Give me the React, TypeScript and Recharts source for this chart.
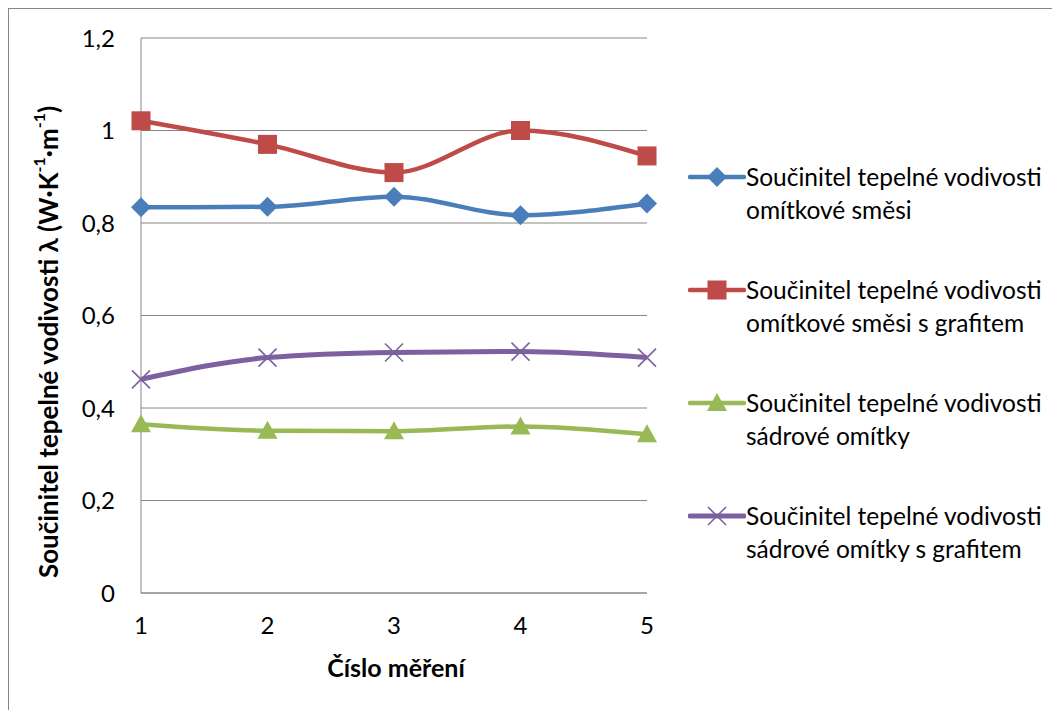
import React from 'react'
import { LineChart, Line, XAxis, YAxis, CartesianGrid } from 'recharts'

const MEASUREMENTS = ['1', '2', '3', '4', '5']
const OMITKA = [0.834, 0.835, 0.857, 0.817, 0.842]
const OMITKA_GRAFIT = [1.021, 0.970, 0.909, 1.0, 0.945]
const SADRA = [0.365, 0.351, 0.350, 0.360, 0.343]
const SADRA_GRAFIT = [0.462, 0.509, 0.520, 0.522, 0.509]
const Y_TICKS = [0, 0.2, 0.4, 0.6, 0.8, 1, 1.2]

const SERIES = [
  { key: 'omitka', name: ['Součinitel tepelné vodivosti', 'omítkové směsi'], color: '#4a7ebb', marker: 'diamond', width: 4.5 },
  { key: 'omitkaGrafit', name: ['Součinitel tepelné vodivosti', 'omítkové směsi s grafitem'], color: '#be4b48', marker: 'square', width: 4.5 },
  { key: 'sadra', name: ['Součinitel tepelné vodivosti', 'sádrové omítky'], color: '#98b954', marker: 'triangle', width: 4.5 },
  { key: 'sadraGrafit', name: ['Součinitel tepelné vodivosti', 'sádrové omítky s grafitem'], color: '#7d60a0', marker: 'cross', width: 5 },
]

const data = MEASUREMENTS.map((m, i) => ({
  n: m,
  omitka: OMITKA[i],
  omitkaGrafit: OMITKA_GRAFIT[i],
  sadra: SADRA[i],
  sadraGrafit: SADRA_GRAFIT[i],
}))

const FONT = 'Lato, "Open Sans", sans-serif'
const GRID = '#868686'

// draws one marker shape centred on cx, cy
const Marker = ({ type, cx, cy, color }: any) => {
  if (type === 'diamond') {
    return <path d={`M${cx},${cy - 10}L${cx + 10},${cy}L${cx},${cy + 10}L${cx - 10},${cy}Z`} fill={color} />
  }
  if (type === 'square') {
    return <rect x={cx - 9.5} y={cy - 9.5} width={19} height={19} fill={color} />
  }
  if (type === 'triangle') {
    return <path d={`M${cx},${cy - 10}L${cx + 10},${cy + 8}L${cx - 10},${cy + 8}Z`} fill={color} />
  }
  return (
    <g stroke={color} strokeWidth={1.6}>
      <line x1={cx - 9} y1={cy - 9} x2={cx + 9} y2={cy + 9} />
      <line x1={cx - 9} y1={cy + 9} x2={cx + 9} y2={cy - 9} />
    </g>
  )
}

const makeDot = (type: string, color: string) => (props: any) => {
  const { cx, cy, index } = props
  if (cx == null || cy == null) return <g key={index} />
  return <g key={`${type}-${index}`}><Marker type={type} cx={cx} cy={cy} color={color} /></g>
}

const YLabel = () => (
  <text
    x={39}
    y={333}
    transform="rotate(-90 39 333)"
    textAnchor="middle"
    dominantBaseline="central"
    fontFamily={FONT}
    fontWeight="bold"
    fontSize={26}
    fill="#000"
  >
    Součinitel tepelné vodivosti λ (W·K<tspan baselineShift="super" fontSize={16}>-1</tspan>·m<tspan baselineShift="super" fontSize={16}>-1</tspan>)
  </text>
)

export default function App() {
  return (
    <div
      style={{
        position: 'relative',
        width: 1052,
        height: 702,
        boxSizing: 'border-box',
        borderTop: `1px solid ${GRID}`,
        borderLeft: `1px solid ${GRID}`,
        background: '#fff',
        fontFamily: FONT,
      }}
    >
      <LineChart width={1051} height={701} data={data} margin={{ top: 29, right: 413, bottom: 57, left: 32 }}>
        <CartesianGrid vertical={false} stroke={GRID} strokeWidth={1} />
        <XAxis
          dataKey="n"
          height={60}
          stroke={GRID}
          tickLine={false}
          tickSize={0}
          tickMargin={24}
          tick={{ fill: '#000', fontSize: 24, fontFamily: FONT }}
          label={{ value: 'Číslo měření', position: 'insideBottom', offset: -24, fill: '#000', fontSize: 25, fontWeight: 'bold', fontFamily: FONT, dx: 2 }}
        />
        <YAxis
          width={100}
          domain={[0, 1.2]}
          ticks={Y_TICKS}
          stroke={GRID}
          tickLine={false}
          tickSize={0}
          tickMargin={26}
          tickFormatter={(v: number) => String(v).replace('.', ',')}
          tick={{ fill: '#000', fontSize: 24, fontFamily: FONT }}
          label={<YLabel />}
        />
        {SERIES.map(s => (
          <Line
            key={s.key}
            type="monotone"
            dataKey={s.key}
            stroke={s.color}
            strokeWidth={s.width}
            dot={makeDot(s.marker, s.color)}
            activeDot={false}
            isAnimationActive={false}
          />
        ))}
      </LineChart>

      {/* legend */}
      <div style={{ position: 'absolute', left: 679, top: 151 }}>
        {SERIES.map(s => (
          <div key={s.key} style={{ display: 'flex', alignItems: 'flex-start', height: 113 }}>
            <svg width={58} height={33} style={{ flexShrink: 0 }}>
              <line x1={2} y1={17} x2={56} y2={17} stroke={s.color} strokeWidth={s.width} strokeLinecap="round" />
              <Marker type={s.marker} cx={29} cy={17} color={s.color} />
            </svg>
            <div style={{ fontSize: 24.5, lineHeight: '33px', color: '#000', whiteSpace: 'nowrap' }}>
              {s.name[0]}
              <br />
              {s.name[1]}
            </div>
          </div>
        ))}
      </div>
    </div>
  )
}
